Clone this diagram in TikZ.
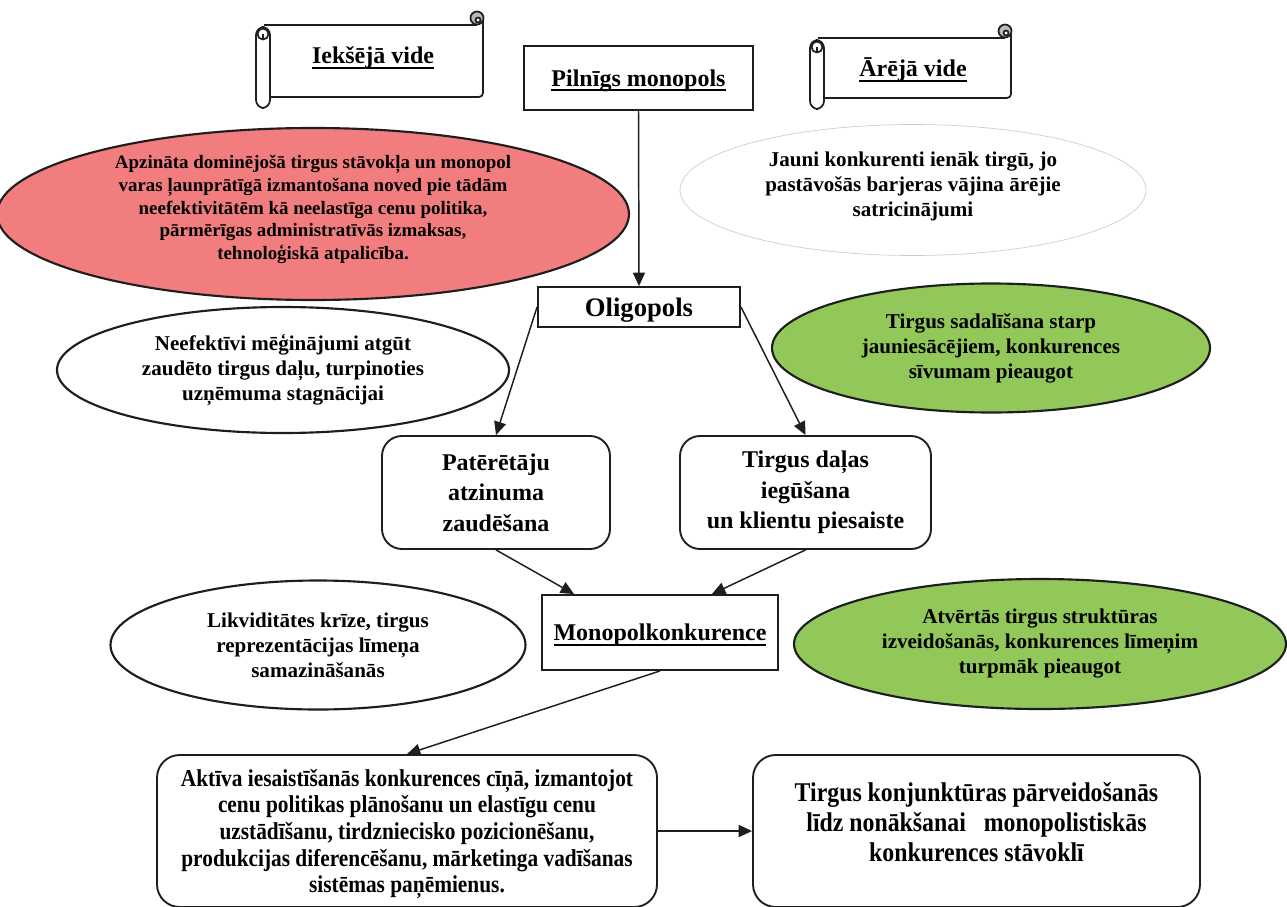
\documentclass[tikz,border=0pt]{standalone}
\usepackage{fontspec}
\setmainfont{Liberation Serif}
\newfontfamily\condf[FakeStretch=0.88]{Liberation Serif}
\newcommand\myul[1]{\setbox0\hbox{#1}\leavevmode\rlap{\rule[-3.5pt]{\wd0}{1.4pt}}\box0}
\usetikzlibrary{shapes.geometric,arrows.meta,calc}
\definecolor{redfill}{RGB}{241,125,126}
\definecolor{greenfill}{RGB}{146,200,90}
\definecolor{linecol}{RGB}{30,30,30}
\newcommand\pxu{0.75pt}
\newcommand\myscroll[4]{%
  \fill[white] (#1+8,#2) rectangle (#3,#4);
  \draw[scrollline] (#1+8,#2) -- (#3-6,#2);
  \draw[scrollline,rounded corners=3] (#3,#2-7) -- (#3,#4) -- (#1+12,#4);
  \draw[scrollline,fill=gray!55] (#3-6,#2-7) circle (6.5);
  \draw[scrollline,fill=white] (#3-5,#2-5) circle (2.5);
  \draw[scrollline,fill=white,rounded corners=6] (#1,#2+2) rectangle (#1+14,#4+11);
  \draw[scrollline,fill=white] (#1+7,#2+9) circle (5.5);
  \draw[scrollline] (#1+7,#2+9) -- (#1+7,#2+14);
}
\tikzset{
  scrollline/.style={draw=linecol,line width=1.3pt},
  txt/.style={font=\bfseries, align=center, inner sep=0pt},
  boxr/.style={draw=linecol,line width=1.4pt,fill=white,align=center,font=\bfseries,inner sep=0pt},
  rbox/.style={boxr,rounded corners=15pt},
  ell/.style={ellipse,draw=linecol,line width=1.6pt,align=center,inner sep=0pt,font=\fontsize{15.8}{18.75}\selectfont\bfseries},
  arr/.style={draw=linecol,line width=1.1pt,-{Triangle[length=10pt,width=9pt]}},
}
\begin{document}
\begin{tikzpicture}[x=0.75pt,y=-0.75pt]
\useasboundingbox (0,0) rectangle (1287,906);
\fill[white] (0,0) rectangle (1287,906);

% scrolls
\myscroll{256}{25}{483}{97}
\node[txt,font=\fontsize{18}{21}\selectfont\bfseries] (iv) at (373,58) {\myul{Iekšējā vide}};
\myscroll{810}{38}{1011}{98}
\node[txt,font=\fontsize{18}{21}\selectfont\bfseries] (av) at (913,70) {\myul{Ārējā vide}};

% top box
\node[boxr,minimum width=229*\pxu,minimum height=64*\pxu,text depth=0pt,font=\fontsize{18}{21}\selectfont\bfseries] (pm) at (638.5,78) {\myul{Pilnīgs monopols}};

% ellipses
\node[ell,fill=redfill,minimum width=632*\pxu,minimum height=172*\pxu,text depth=10pt,inner ysep=-12pt,font=\fontsize{14.2}{17}\selectfont\bfseries] (red) at (313,214)
 {Apzināta dominējošā tirgus stāvokļa un monopol\\varas ļaunprātīgā izmantošana noved pie tādām\\neefektivitātēm kā neelastīga cenu politika,\\pārmērīgas administratīvās izmaksas,\\tehnoloģiskā atpalicība.};
\node[ell,draw=gray!40,line width=0.5pt,fill=white,minimum width=466*\pxu,minimum height=131*\pxu,text depth=9pt,inner ysep=-6pt] (jauni) at (913,190)
 {Jauni konkurenti ienāk tirgū, jo\\pastāvošās barjeras vājina ārējie\\satricinājumi};

\node[boxr,minimum width=202*\pxu,minimum height=40*\pxu,text depth=-3pt,font=\fontsize{20}{23}\selectfont\bfseries] (olig) at (639,307) {Oligopols};

\node[ell,fill=white,minimum width=452*\pxu,minimum height=126*\pxu] (neef) at (283,370)
 {Neefektīvi mēģinājumi atgūt\\zaudēto tirgus daļu, turpinoties\\uzņēmuma stagnācijai};
\node[ell,fill=greenfill,minimum width=438*\pxu,minimum height=129*\pxu] (gr1) at (991,348)
 {Tirgus sadalīšana starp\\jauniesācējiem, konkurences\\sīvumam pieaugot};

\node[rbox,minimum width=228*\pxu,minimum height=113*\pxu,font=\fontsize{18}{23}\selectfont\bfseries] (pat) at (496,492.5)
 {Patērētāju\\atzinuma\\zaudēšana};
\node[rbox,minimum width=251*\pxu,minimum height=113*\pxu,font=\fontsize{18}{23}\selectfont\bfseries] (tir) at (805.5,492.5)
 {Tirgus daļas\\iegūšana\\un klientu piesaiste};

\node[boxr,minimum width=236*\pxu,minimum height=75*\pxu,text depth=-1pt,font=\fontsize{18}{21}\selectfont\bfseries] (mono) at (660,632.5) {\myul{Monopolkonkurence}};

\node[ell,fill=white,minimum width=415*\pxu,minimum height=129*\pxu] (likv) at (318,645)
 {Likviditātes krīze, tirgus\\reprezentācijas līmeņa\\samazināšanās};
\node[ell,fill=greenfill,minimum width=492*\pxu,minimum height=130*\pxu] (gr2) at (1040,644)
 {Atvērtās tirgus struktūras\\izveidošanās, konkurences līmeņim\\turpmāk pieaugot};

\node[rbox,rounded corners=17pt,minimum width=500*\pxu,minimum height=152*\pxu,text depth=-15.5pt,font=\condf\fontsize{18.2}{20}\selectfont\bfseries] (bl) at (407,831)
 {Aktīva iesaistīšanās konkurences cīņā, izmantojot\\cenu politikas plānošanu un elastīgu cenu\\uzstādīšanu, tirdzniecisko pozicionēšanu,\\produkcijas diferencēšanu, mārketinga vadīšanas\\sistēmas paņēmienus.};
\node[rbox,rounded corners=17pt,minimum width=447*\pxu,minimum height=152*\pxu,text depth=13pt,font=\condf\fontsize{20.3}{22.5}\selectfont\bfseries] (br) at (976.5,831)
 {Tirgus konjunktūras pārveidošanās\\līdz nonākšanai\ \ \ monopolistiskās\\konkurences stāvoklī};

% connectors
\draw[arr] (pm.south) -- (olig.north);
\draw[arr] (olig.west) -- (pat.north);
\draw[arr] (olig.east) -- (tir.north);
\draw[arr] (pat.south) -- ($(mono.north west)+(33,0)$);
\draw[arr] (tir.south) -- ($(mono.north east)+(-67,0)$);
\draw[arr] (mono.south) -- (bl.north);
\draw[arr] (bl.east) -- (br.west);
\end{tikzpicture}
\end{document}
